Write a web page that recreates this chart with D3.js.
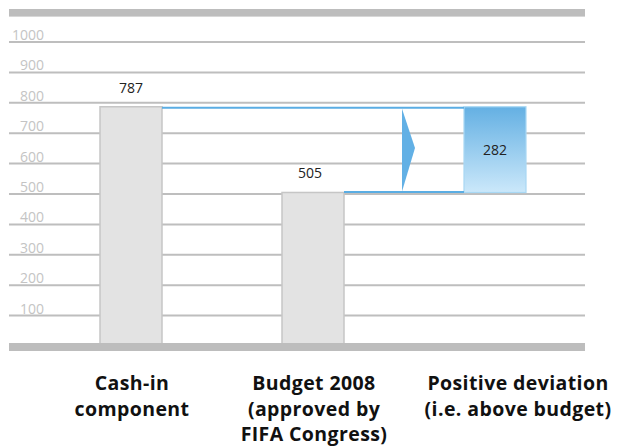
<!DOCTYPE html>
<html lang="en">
<head>
  <meta charset="UTF-8" />
  <title>Cash-in vs Budget 2008</title>
  <script src="https://cdnjs.cloudflare.com/ajax/libs/d3/7.8.2/d3.min.js"></script>
  <style>
    body { margin: 0; padding: 0; background: #fff; }
    svg { display: block; }
    .tick-label { font-family: "Open Sans", sans-serif; font-size: 14px; fill: #c4c4c4; }
    .value-label { font-family: "Open Sans", sans-serif; font-size: 14px; fill: #222; }
    .cat-label { font-family: "Open Sans", sans-serif; font-size: 19.5px; font-weight: bold; fill: #111; letter-spacing: 0.4px; }
  </style>
</head>
<body>
<svg id="chart" width="619" height="446">
  <defs>
    <linearGradient id="blueGrad" x1="0" y1="0" x2="0" y2="1">
      <stop offset="0%" stop-color="#64b0e3"/>
      <stop offset="100%" stop-color="#cbe8fa"/>
    </linearGradient>
  </defs>
</svg>

<script>
// data
const categories = ["cash", "budget", "deviation"];
const categoryLabels = [
  ["Cash-in", "component"],
  ["Budget 2008", "(approved by", "FIFA Congress)"],
  ["Positive deviation", "(i.e. above budget)"]
];
const values = [787, 505, 282];
const tickValues = [100, 200, 300, 400, 500, 600, 700, 800, 900, 1000];

const svg = d3.select("#chart");

const left = 9, right = 585;
const y = d3.scaleLinear().domain([0, 1100]).range([346, 11.6]);
const x = d3.scalePoint().domain(categories).range([131, 495]);
const barW = 62;

// frame bar on top
svg.append("rect")
  .attr("x", left).attr("width", right - left)
  .attr("y", y(1100) - 2.6).attr("height", 7.6)
  .attr("fill", "#bdbdbd");

// gridlines + tick labels
const grid = svg.append("g");
tickValues.forEach(v => {
  grid.append("line")
    .attr("x1", left).attr("x2", right)
    .attr("y1", y(v)).attr("y2", y(v))
    .attr("stroke", "#bebebe").attr("stroke-width", 2);
  grid.append("text")
    .attr("class", "tick-label")
    .attr("x", 44).attr("y", y(v) - 2)
    .attr("text-anchor", "end")
    .text(v);
});

// grey bars
const cashIn = values[0], budget = values[1], dev = values[2];
[0, 1].forEach(i => {
  svg.append("rect")
    .attr("x", x(categories[i]) - barW / 2)
    .attr("y", y(values[i]))
    .attr("width", barW)
    .attr("height", y(0) - y(values[i]))
    .attr("fill", "#e3e3e3")
    .attr("stroke", "#c6c6c6")
    .attr("stroke-width", 1.5);
});

// blue deviation bar (stacked on top of the budget)
const devX = x(categories[2]) - barW / 2;
svg.append("rect")
  .attr("x", devX)
  .attr("y", y(budget + dev))
  .attr("width", barW)
  .attr("height", y(budget) - y(budget + dev))
  .attr("fill", "url(#blueGrad)")
  .attr("stroke", "#a8d8f4")
  .attr("stroke-width", 1.2);

// connector lines
const blue = "#5aade3";
svg.append("line")
  .attr("x1", x(categories[0]) + barW / 2).attr("x2", devX)
  .attr("y1", y(cashIn) + 1).attr("y2", y(cashIn) + 1)
  .attr("stroke", blue).attr("stroke-width", 2);
svg.append("line")
  .attr("x1", x(categories[1]) + barW / 2).attr("x2", devX)
  .attr("y1", y(budget) - 0.5).attr("y2", y(budget) - 0.5)
  .attr("stroke", blue).attr("stroke-width", 2);

// arrow pointing at the deviation
const ax = 402, ay1 = y(cashIn) + 2, ay2 = y(budget) - 1;
svg.append("path")
  .attr("d", `M${ax},${ay1} L${ax + 13},${(ay1 + ay2) / 2 - 2} L${ax},${ay2} Z`)
  .attr("fill", "#62b0e5");

// bottom frame bar
svg.append("rect")
  .attr("x", left).attr("width", right - left)
  .attr("y", y(0) - 3).attr("height", 8)
  .attr("fill", "#bdbdbd");

// value labels
svg.append("text").attr("class", "value-label")
  .attr("x", x(categories[0])).attr("y", y(cashIn) - 14)
  .attr("text-anchor", "middle").text(cashIn);
svg.append("text").attr("class", "value-label")
  .attr("x", x(categories[1]) - 3).attr("y", y(budget) - 14)
  .attr("text-anchor", "middle").text(budget);
svg.append("text").attr("class", "value-label")
  .attr("x", x(categories[2])).attr("y", y(budget + dev / 2) + 5)
  .attr("text-anchor", "middle").text(dev);

// category labels
const labelShift = [1, 1, 23];
categoryLabels.forEach((lines, i) => {
  const t = svg.append("text")
    .attr("class", "cat-label")
    .attr("text-anchor", "middle")
    .attr("x", x(categories[i]) + labelShift[i])
    .attr("y", 390);
  lines.forEach((ln, j) => {
    t.append("tspan")
      .attr("x", x(categories[i]) + labelShift[i])
      .attr("dy", j === 0 ? 0 : 25.5)
      .text(ln);
  });
});
</script>
</body>
</html>
